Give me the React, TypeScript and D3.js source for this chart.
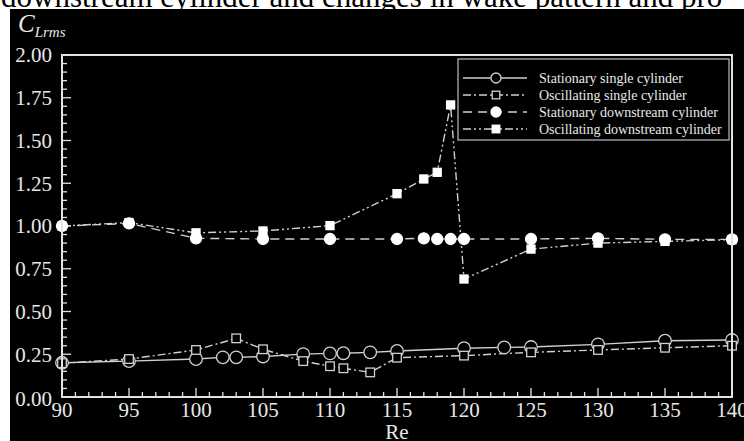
import * as d3 from "d3";

// Re values and C_Lrms for each case
const reSingle = [90, 95, 100, 102, 103, 105, 108, 110, 111, 113, 115, 120, 123, 125, 130, 135, 140];
const statSingle = [0.2, 0.21, 0.222, 0.232, 0.232, 0.237, 0.251, 0.255, 0.256, 0.261, 0.269, 0.285, 0.29, 0.292, 0.308, 0.329, 0.333];

const reOscSingle = [90, 95, 100, 103, 105, 108, 110, 111, 113, 115, 120, 125, 130, 135, 140];
const oscSingle = [0.198, 0.222, 0.275, 0.343, 0.279, 0.21, 0.18, 0.168, 0.144, 0.23, 0.242, 0.261, 0.275, 0.288, 0.3];

const reDown = [90, 95, 100, 105, 110, 115, 117, 118, 119, 120, 125, 130, 135, 140];
const statDown = [1.0, 1.015, 0.928, 0.924, 0.924, 0.924, 0.928, 0.924, 0.924, 0.924, 0.924, 0.928, 0.922, 0.922];
const oscDown = [1.0, 1.02, 0.96, 0.971, 1.002, 1.189, 1.275, 1.314, 1.708, 0.69, 0.865, 0.9, 0.91, 0.92];

const yTicks = [0, 0.25, 0.5, 0.75, 1.0, 1.25, 1.5, 1.75, 2.0];
const xTicks = [90, 95, 100, 105, 110, 115, 120, 125, 130, 135, 140];

const legendLabels = [
  "Stationary single cylinder",
  "Oscillating single cylinder",
  "Stationary downstream cylinder",
  "Oscillating downstream cylinder",
];

const FONT = "'Liberation Serif', 'Times New Roman', serif";
const LINE = "#d0d0d0";
const AXIS = "#e2e2e2";
const TEXT = "#e8e8e8";

const series = [
  { re: reSingle, v: statSingle, dash: "none", marker: "circle", filled: false },
  { re: reOscSingle, v: oscSingle, dash: "8 3 2 3", marker: "square", filled: false },
  { re: reDown, v: statDown, dash: "9 6", marker: "circle", filled: true },
  { re: reDown, v: oscDown, dash: "8 3 2 3 2 3", marker: "square", filled: true },
];

function Marker({ type, filled, x, y, size }: { type: string; filled: boolean; x: number; y: number; size: number }) {
  const fill = filled ? "#ffffff" : "#000000";
  const stroke = filled ? "#ffffff" : LINE;
  if (type === "circle") {
    return <circle cx={x} cy={y} r={size} fill={fill} stroke={stroke} strokeWidth={1.3} />;
  }
  return <rect x={x - size} y={y - size} width={size * 2} height={size * 2} fill={fill} stroke={stroke} strokeWidth={1.3} />;
}

export default function App() {
  const W = 744;
  const H = 441;
  const plot = { left: 62, right: 732, top: 55, bottom: 397 };

  const x = d3.scaleLinear().domain([90, 140]).range([plot.left, plot.right]);
  const y = d3.scaleLinear().domain([0, 2]).range([plot.bottom, plot.top]);

  const line = d3
    .line<[number, number]>()
    .x((d) => x(d[0]))
    .y((d) => y(d[1]));

  const xMinor = d3.range(90, 141, 1).filter((t) => t % 5 !== 0);
  const yMinor = d3.range(0, 41).map((i) => i * 0.05).filter((_, i) => i % 5 !== 0);

  const legend = { x: 458, y: 59, w: 271, h: 81, row0: 78, step: 17 };

  return (
    <svg
      width={W}
      height={H}
      style={{ position: "absolute", left: 0, top: 0, display: "block", background: "#fff" }}
    >
      <text x={1} y={7} fontFamily={FONT} fontSize={31} fill="#000">
        downstream cylinder and changes in wake pattern and pro
      </text>
      <rect x={10} y={9} width={W - 10} height={H - 9} fill="#000" />

      {/* y axis title */}
      <text x={18} y={32} fontFamily={FONT} fontStyle="italic" fontSize={25} fill={TEXT}>
        C<tspan fontSize={15} dy={5}>Lrms</tspan>
      </text>

      {/* ticks */}
      <g stroke={AXIS} strokeWidth={1.3}>
        {yTicks.map((t) => (
          <line key={"ym" + t} x1={plot.left} x2={plot.left + 9} y1={y(t)} y2={y(t)} />
        ))}
        {yMinor.map((t) => (
          <line key={"yn" + t} x1={plot.left} x2={plot.left + 5} y1={y(t)} y2={y(t)} />
        ))}
        {xTicks.map((t) => (
          <line key={"xm" + t} x1={x(t)} x2={x(t)} y1={plot.bottom} y2={plot.bottom - 9} />
        ))}
        {xMinor.map((t) => (
          <line key={"xn" + t} x1={x(t)} x2={x(t)} y1={plot.bottom} y2={plot.bottom - 5} />
        ))}
      </g>

      {/* tick labels */}
      <g fontFamily={FONT} fontSize={21} fill={TEXT}>
        {yTicks.map((t) => (
          <text key={"yl" + t} x={52} y={y(t) + (t === 0 ? 2 : 0)} dy="0.35em" textAnchor="end">
            {t.toFixed(2)}
          </text>
        ))}
        {xTicks.map((t) => (
          <text key={"xl" + t} x={x(t)} y={417} textAnchor="middle">
            {t}
          </text>
        ))}
        <text x={(plot.left + plot.right) / 2} y={439} textAnchor="middle">
          Re
        </text>
      </g>

      {/* series lines */}
      {series.map((s, i) => (
        <path
          key={"l" + i}
          d={line(s.re.map((r, j) => [r, s.v[j]] as [number, number])) || ""}
          fill="none"
          stroke={LINE}
          strokeWidth={1.4}
          strokeDasharray={s.dash}
        />
      ))}
      {series.map((s, i) => (
        <g key={"m" + i}>
          {s.re.map((r, j) => (
            <Marker
              key={j}
              type={s.marker}
              filled={s.filled}
              x={x(r)}
              y={y(s.v[j])}
              size={s.marker === "circle" ? (s.filled ? 5.5 : 6.3) : s.filled ? 4 : 4.3}
            />
          ))}
        </g>
      ))}

      {/* frame */}
      <rect
        x={plot.left}
        y={plot.top}
        width={plot.right - plot.left}
        height={plot.bottom - plot.top}
        fill="none"
        stroke={AXIS}
        strokeWidth={2}
      />

      {/* legend */}
      <rect x={legend.x} y={legend.y} width={legend.w} height={legend.h} fill="#000" stroke="#bdbdbd" strokeWidth={1.2} />
      {series.map((s, i) => {
        const ry = legend.row0 + i * legend.step;
        return (
          <g key={"lg" + i}>
            <line x1={463} x2={527} y1={ry} y2={ry} stroke={LINE} strokeWidth={1.4} strokeDasharray={s.dash} />
            <Marker type={s.marker} filled={s.filled} x={496} y={ry} size={s.marker === "circle" ? 5 : 3.8} />
            <text x={539} y={ry} dy="0.35em" fontFamily={FONT} fontSize={14} fill={TEXT}>
              {legendLabels[i]}
            </text>
          </g>
        );
      })}
    </svg>
  );
}
